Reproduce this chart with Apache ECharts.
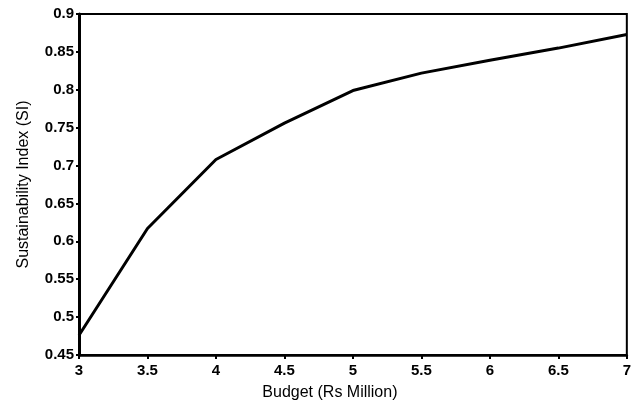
<!DOCTYPE html>
<html><head><meta charset="utf-8">
<script src="https://cdn.jsdelivr.net/npm/echarts@6/dist/echarts.min.js"></script>
<style>html,body{margin:0;padding:0;background:#fff}#c{width:634px;height:414px}</style>
</head><body><div id="c"></div>
<script>
const budget = [3, 3.5, 4, 4.5, 5, 5.5, 6, 6.5, 7];
const sustainabilityIndex = [0.476, 0.617, 0.708, 0.756, 0.799, 0.822, 0.839, 0.855, 0.873];
const xTicks = [3, 3.5, 4, 4.5, 5, 5.5, 6, 6.5, 7];
const yTicks = [0.45, 0.5, 0.55, 0.6, 0.65, 0.7, 0.75, 0.8, 0.85, 0.9];

const chart = echarts.init(document.getElementById('c'));
const font = 'Liberation Sans, Arial, sans-serif';
const pick = (arr, v) => { const t = arr.find(t => Math.abs(t - v) < 1e-9); return String(t !== undefined ? t : v); };
chart.setOption({
  animation: false,
  grid: { left: 79, right: 5, top: 14, bottom: 59, show: true, borderColor: '#000', borderWidth: 2, backgroundColor: 'transparent' },
  xAxis: {
    type: 'value', min: 3, max: 7, interval: 0.5,
    name: 'Budget (Rs Million)', nameLocation: 'middle', nameGap: 30,
    nameTextStyle: { color: '#000', fontSize: 16, fontFamily: font, padding: [0, 46, 0, 0] },
    axisLine: { lineStyle: { color: '#000', width: 2.5 } },
    axisTick: { show: true, length: 4, lineStyle: { color: '#000', width: 2 } },
    axisLabel: { color: '#000', fontSize: 15, fontFamily: font, margin: 8, fontWeight: 'bold',
      formatter: v => pick(xTicks, v) },
    splitLine: { show: false }
  },
  yAxis: {
    type: 'value', min: 0.45, max: 0.9, interval: 0.05,
    name: 'Sustainability Index (SI)', nameLocation: 'middle', nameGap: 47,
    nameTextStyle: { color: '#000', fontSize: 16, fontFamily: font },
    axisLine: { lineStyle: { color: '#000', width: 3 } },
    axisTick: { show: true, length: 3, lineStyle: { color: '#000', width: 2 } },
    axisLabel: { color: '#000', fontSize: 15, fontFamily: font, margin: 5, fontWeight: 'bold',
      formatter: v => pick(yTicks, v) },
    splitLine: { show: false }
  },
  series: [{
    type: 'line',
    data: budget.map((b, i) => [b, sustainabilityIndex[i]]),
    symbol: 'none',
    lineStyle: { color: '#000', width: 3 }
  }]
});
</script></body></html>
